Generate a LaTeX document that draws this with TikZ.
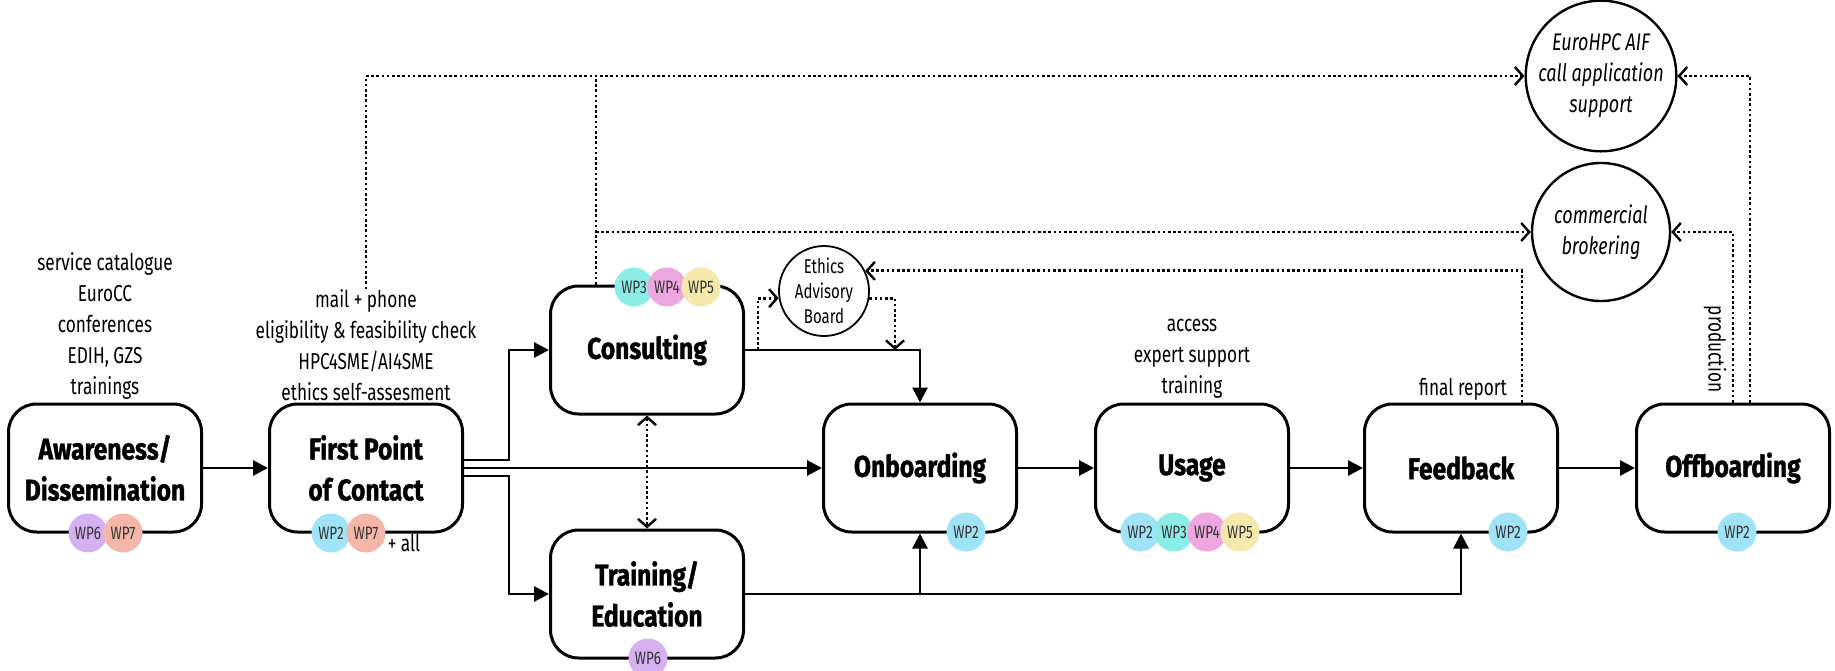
\documentclass[tikz,border=0pt]{standalone}
\usepackage{fontspec}
\setmainfont{Fira Sans}
\newfontfamily\labfont{Fira Sans}[FakeStretch=0.75]
\newfontfamily\titfont{Fira Sans}[FakeStretch=0.82, BoldFeatures={FakeBold=1.2}]
\usetikzlibrary{arrows.meta,calc}
\definecolor{wpB}{RGB}{160,226,246}
\definecolor{wpC}{RGB}{140,236,232}
\definecolor{wpD}{RGB}{238,166,224}
\definecolor{wpE}{RGB}{245,232,172}
\definecolor{wpF}{RGB}{214,176,240}
\definecolor{wpG}{RGB}{245,182,170}
\begin{document}
\begin{tikzpicture}[x=1pt,y=-1pt,
  box/.style={draw, line width=3pt, rounded corners=28pt, minimum width=193pt, minimum height=128pt, fill=white, align=center, inner sep=0pt, font=\titfont\bfseries\fontsize{30}{41}\selectfont},
  badge/.style={circle, minimum size=39pt, inner sep=0pt, font=\labfont\fontsize{18}{18}\selectfont, text=black!80},
  lab/.style={align=center, font=\labfont\fontsize{23}{31}\selectfont, inner sep=0pt},
  bubble/.style={circle, draw, line width=2.4pt, minimum size=138pt, inner sep=0pt, align=center, font=\labfont\itshape\fontsize{24}{31}\selectfont},
  arr/.style={line width=2.8pt, -{Triangle[length=15pt,width=15pt]}},
  dot/.style={line width=2.8pt, dash pattern=on 2.6pt off 2.6pt},
  oarr/.style={-{Straight Barb[length=8pt,width=18pt,line width=2.4pt]}},
]
\useasboundingbox (0,0) rectangle (1835,671);

% main boxes
\node[box] (aw) at (105,468) {Awareness/\\Dissemination};
\node[box] (fp) at (366,468) {First Point\\of Contact};
\node[box] (cons) at (647,350) {Consulting};
\node[box] (tr) at (647,594) {Training/\\Education};
\node[box] (ob) at (920,468) {Onboarding};
\node[box] (us) at (1192,468) {Usage};
\node[box] (fb) at (1461,468) {Feedback};
\node[box] (off) at (1733,468) {Offboarding};

% side circles
\node[circle, draw, line width=1.8pt, minimum size=90pt, inner sep=0pt, align=center, font=\labfont\fontsize{20}{25}\selectfont] (eth) at (824,291) {Ethics\\Advisory\\Board};
\node[bubble] (euro) at (1601,76) {EuroHPC AIF\\call application\\support};
\node[bubble] (comm) at (1601,232) {commercial\\brokering};

% labels
\node[lab] (awlab) at (105,326) {service catalogue\\EuroCC\\conferences\\EDIH, GZS\\trainings};
\node[lab] (fplab) at (366,345) {mail + phone\\eligibility \& feasibility check\\HPC4SME/AI4SME\\ethics self-assesment};
\node[lab] (uslab) at (1192,359) {access\\expert support\\training};
\node[lab] (frlab) at (1463,389) {final report};
\node[lab, rotate=-90] (prod) at (1715,349) {production};

% solid connectors
\draw[arr] (aw) -- (fp);
\draw[arr] ($(fp.east)+(0,-8)$) -- ++(45,0) |- (cons.west);
\draw[arr] (fp.east) -- (ob.west);
\draw[arr] ($(fp.east)+(0,8)$) -- ++(45,0) |- (tr.west);
\draw[arr] (cons.east) -| (ob.north);
\draw[arr] (tr.east) -| (ob.south);
\draw[arr] (tr.east) -| (fb.south);
\draw[arr] (ob) -- (us);
\draw[arr] (us) -- (fb);
\draw[arr] (fb) -- (off);

% dotted connectors
\draw[dot, oarr] (fplab.north) |- (euro.west);
\coordinate (c1) at ($(cons.north west)+(47,0)$);
\draw[dot] (c1) -- (c1 |- euro.west);
\draw[dot, oarr] (c1 |- comm.west) -- (comm.west);
\coordinate (e1) at ($(cons.east)+(13,0)$);
\draw[dot, oarr] (e1) |- (eth.189);
\coordinate (e2) at ($(cons.east)+(150,0)$);
\draw[dot, oarr] (eth.-9) -| (e2);
\draw[dot, oarr] ($(fb.north east)+(-37,0)$) |- (eth.26);
\draw[dot, oarr] (off.north) |- (comm.east);
\draw[dot, oarr] ($(off.north)+(17,0)$) |- (euro.east);
\draw[dot, {Straight Barb[length=8pt,width=18pt,line width=2.4pt]}-{Straight Barb[length=8pt,width=18pt,line width=2.4pt]}] (cons.south) -- (tr.north);

% badges
\node[badge, fill=wpF] (aw6) at (88,533) {WP6};
\node[badge, fill=wpG] (aw7) at (123,533) {WP7};
\node[badge, fill=wpB] (fp2) at (331,533) {WP2};
\node[badge, fill=wpG] (fp7) at (366,533) {WP7};
\node[lab] (fpall) at (404,543) {+ all};
\node[badge, fill=wpC] (c3) at (634,287) {WP3};
\node[badge, fill=wpD] (c4) at (667,287) {WP4};
\node[badge, fill=wpE] (c5) at (701,287) {WP5};
\node[badge, fill=wpF] (t6) at (648,658) {WP6};
\node[badge, fill=wpB] (o2) at (966,532) {WP2};
\node[badge, fill=wpB] (u2) at (1140,532) {WP2};
\node[badge, fill=wpC] (u3) at (1174,532) {WP3};
\node[badge, fill=wpD] (u4) at (1207,532) {WP4};
\node[badge, fill=wpE] (u5) at (1240,532) {WP5};
\node[badge, fill=wpB] (f2) at (1508,532) {WP2};
\node[badge, fill=wpB] (of2) at (1737,532) {WP2};
\end{tikzpicture}
\end{document}
